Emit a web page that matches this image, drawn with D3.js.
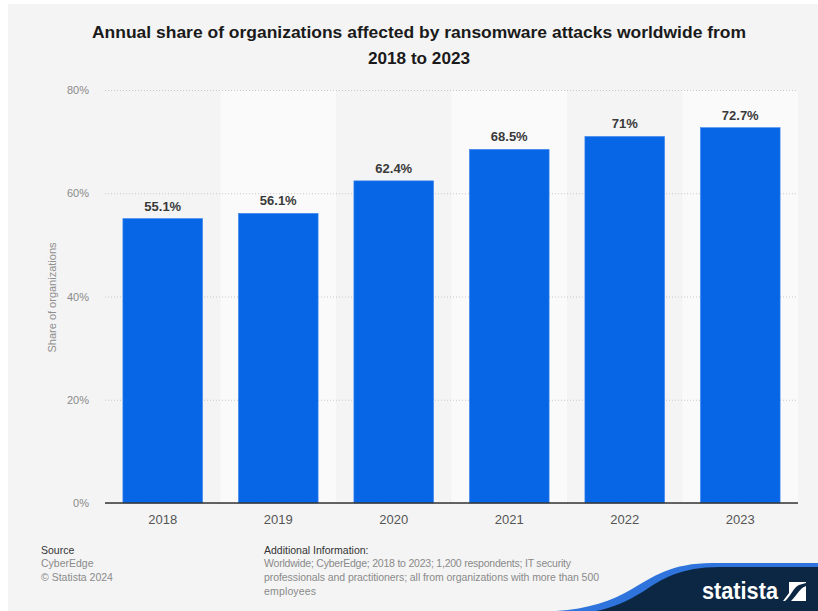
<!DOCTYPE html>
<html>
<head>
<meta charset="utf-8">
<script src="https://cdn.jsdelivr.net/npm/d3@7"></script>
<style>
  html, body { margin: 0; padding: 0; background: #ffffff; }
  svg { display: block; }
  text { font-family: "Liberation Sans", Arial, Helvetica, sans-serif; }
</style>
</head>
<body>
<svg id="chart" width="818" height="611"></svg>
<script>
// Share of organizations affected by ransomware, by year (percent)
const years = ["2018", "2019", "2020", "2021", "2022", "2023"];
const shares = [55.1, 56.1, 62.4, 68.5, 71, 72.7];
const valueLabels = ["55.1%", "56.1%", "62.4%", "68.5%", "71%", "72.7%"];
const yTicks = [0, 20, 40, 60, 80];

const titleLines = [
  "Annual share of organizations affected by ransomware attacks worldwide from",
  "2018 to 2023"
];
const sourceLines = ["CyberEdge", "\u00A9 Statista 2024"];
const infoLines = [
  "Worldwide; CyberEdge; 2018 to 2023; 1,200 respondents; IT security",
  "professionals and practitioners; all from organizations with more than 500",
  "employees"
];

const svg = d3.select("#chart");
const W = 818, H = 611;

// card background
svg.append("rect").attr("x", 8).attr("y", 4).attr("width", W - 8).attr("height", H - 4)
  .attr("fill", "#f4f4f4");

// title
const title = svg.append("g");
title.append("text").attr("x", 419).attr("y", 38).attr("text-anchor", "middle")
  .attr("font-size", 17).attr("font-weight", "bold").attr("fill", "#1a1a1a")
  .attr("textLength", 654).attr("lengthAdjust", "spacingAndGlyphs")
  .text(titleLines[0]);
title.append("text").attr("x", 419).attr("y", 64).attr("text-anchor", "middle")
  .attr("font-size", 17).attr("font-weight", "bold").attr("fill", "#1a1a1a")
  .attr("textLength", 102).attr("lengthAdjust", "spacingAndGlyphs")
  .text(titleLines[1]);

// plot geometry
const plotLeft = 105, plotRight = 798, plotTop = 90, plotBottom = 503;

const x = d3.scaleBand().domain(years).range([plotLeft, plotRight]).paddingInner(0.31).paddingOuter(0.155);
const bands = d3.scaleBand().domain(years).range([plotLeft, plotRight]).padding(0);
const y = d3.scaleLinear().domain([0, 80]).range([plotBottom, plotTop]);

// alternating column shading
svg.append("g").selectAll("rect")
  .data(years.filter((d, i) => i % 2 === 1))
  .join("rect")
  .attr("x", d => bands(d))
  .attr("y", plotTop)
  .attr("width", bands.bandwidth())
  .attr("height", plotBottom - plotTop)
  .attr("fill", "#fafafa");

// horizontal gridlines + tick labels
const yAxis = d3.axisLeft(y).tickValues(yTicks).tickFormat(d => d + "%")
  .tickSize(-(plotRight - plotLeft)).tickPadding(16);
const gy = svg.append("g").attr("transform", `translate(${plotLeft},0)`).call(yAxis);
gy.select(".domain").remove();
gy.selectAll(".tick line").attr("stroke", "#c8c8c8").attr("stroke-dasharray", "1,2");
gy.selectAll(".tick text").attr("font-size", 11).attr("fill", "#8a8a8a")
  .attr("font-family", "Liberation Sans, Arial, sans-serif");

// y axis title
svg.append("text")
  .attr("transform", `translate(56,${(plotTop + plotBottom) / 2 + 1}) rotate(-90)`)
  .attr("text-anchor", "middle").attr("font-size", 11).attr("fill", "#8f8f8f")
  .text("Share of organizations");

// bars
svg.append("g").selectAll("rect")
  .data(years)
  .join("rect")
  .attr("x", d => x(d))
  .attr("y", (d, i) => y(shares[i]))
  .attr("width", x.bandwidth())
  .attr("height", (d, i) => y(0) - y(shares[i]))
  .attr("fill", "#0766e5")
  .attr("stroke", "#3f87ee").attr("stroke-width", 0.6);

// value labels
svg.append("g").selectAll("text")
  .data(years)
  .join("text")
  .attr("x", d => x(d) + x.bandwidth() / 2)
  .attr("y", (d, i) => y(shares[i]) - 8)
  .attr("text-anchor", "middle")
  .attr("font-size", 13).attr("font-weight", "bold").attr("fill", "#3a3a3a")
  .text((d, i) => valueLabels[i]);

// baseline
svg.append("line").attr("x1", plotLeft).attr("x2", plotRight).attr("y1", y(0)).attr("y2", y(0))
  .attr("stroke", "#333333").attr("stroke-width", 1.5);

// x axis labels
const xAxis = d3.axisBottom(x).tickSize(0).tickPadding(12);
const gx = svg.append("g").attr("transform", `translate(0,${plotBottom})`).call(xAxis);
gx.select(".domain").remove();
gx.selectAll(".tick text").attr("font-size", 13).attr("fill", "#555555")
  .attr("font-family", "Liberation Sans, Arial, sans-serif");

// footer: source
const foot = svg.append("g").attr("font-size", 10.5);
foot.append("text").attr("x", 41).attr("y", 554).attr("fill", "#333333").text("Source");
foot.selectAll("text.src").data(sourceLines).join("text").attr("class", "src")
  .attr("x", 41).attr("y", (d, i) => 567 + i * 14).attr("fill", "#8a8a8a").text(d => d);

foot.append("text").attr("x", 264).attr("y", 554).attr("fill", "#333333")
  .text("Additional Information:");
const infoLen = [307, 335, 52];
foot.selectAll("text.info").data(infoLines).join("text").attr("class", "info")
  .attr("x", 264).attr("y", (d, i) => 567 + i * 14).attr("fill", "#8a8a8a")
  .attr("textLength", (d, i) => infoLen[i]).attr("lengthAdjust", "spacing")
  .text(d => d);

// brand wave in the corner
const logo = svg.append("g");
logo.append("path")
  .attr("d", "M818,563 L712,563 C672,563 652,577 632,589 C612,601 588,609 556,611 L818,611 Z")
  .attr("fill", "#2e74dc");
logo.append("path")
  .attr("d", "M818,567 L720,567 C680,567 662,579 644,591 C628,601 612,608 596,611 L818,611 Z")
  .attr("fill", "#0c2744");
logo.append("text").attr("x", 702).attr("y", 599)
  .attr("font-size", 24).attr("font-weight", "bold").attr("fill", "#ffffff")
  .attr("textLength", 76).attr("lengthAdjust", "spacingAndGlyphs")
  .text("statista");
// brand mark
const mark = logo.append("g").attr("transform", "translate(783,582)");
mark.append("rect").attr("width", 23).attr("height", 19).attr("fill", "#ffffff");
mark.append("path")
  .attr("d", "M0,0 L6,0 L6,11 L0,19 Z")
  .attr("fill", "#0c2744");
mark.append("path")
  .attr("d", "M2,19 C8,14 10,6 16,3 L23,1 L23,4 C17,6 14,13 8,19 Z")
  .attr("fill", "#0c2744");
</script>
</body>
</html>
